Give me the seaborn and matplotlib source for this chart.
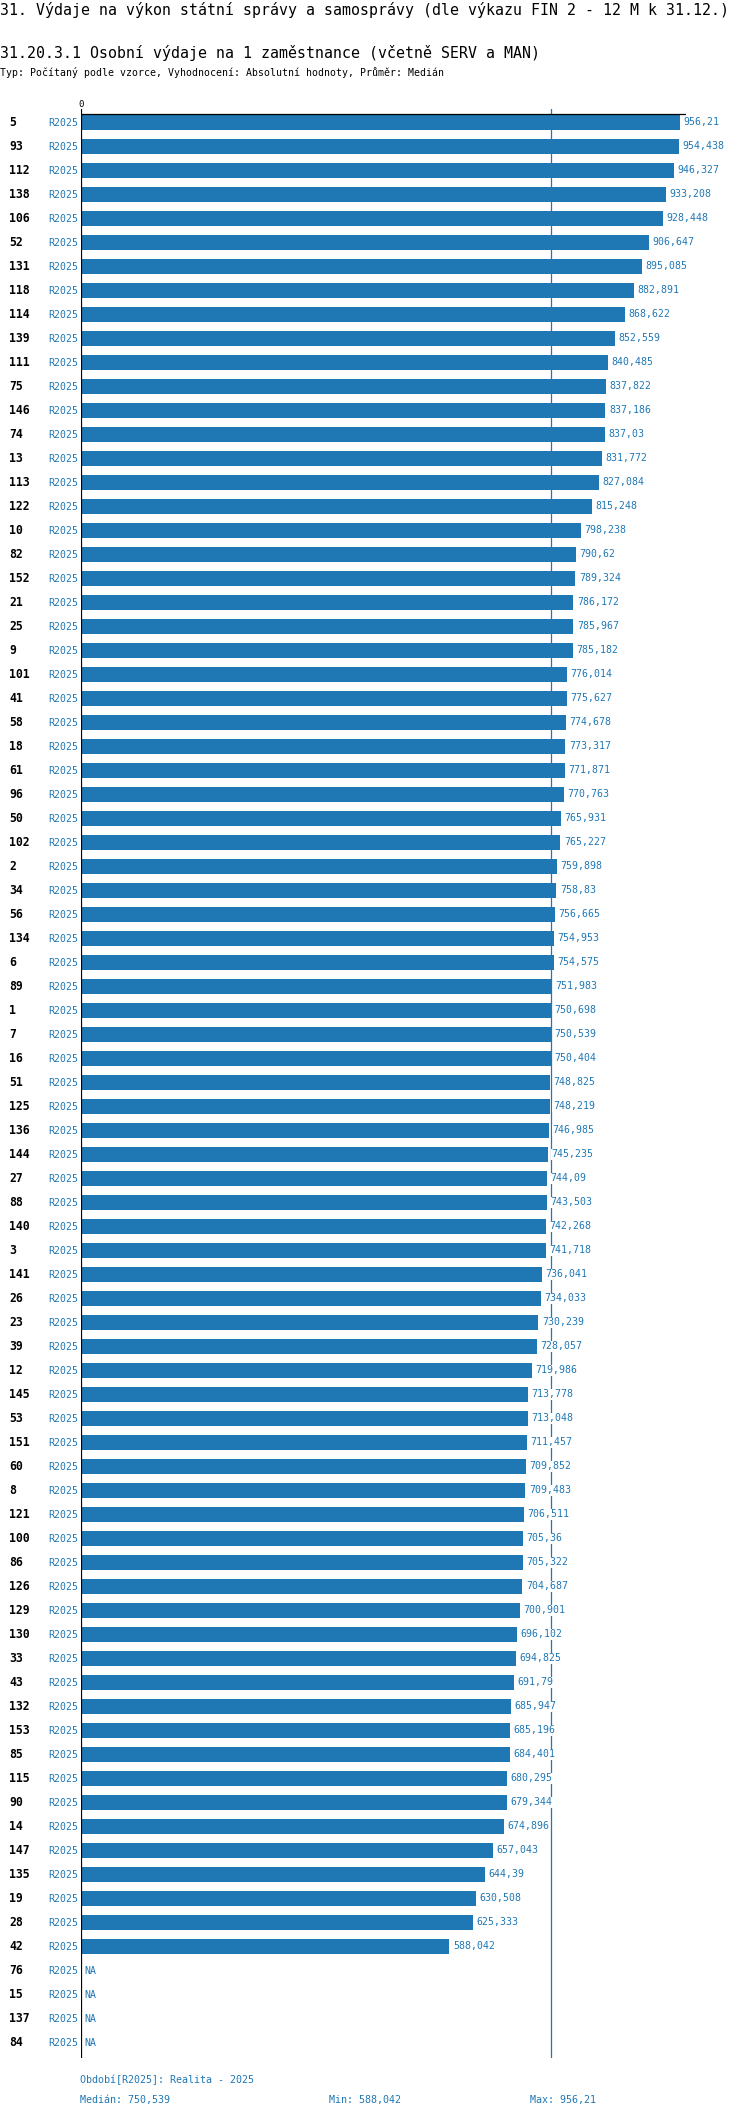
import numpy as np
import pandas as pd
import matplotlib
matplotlib.use("Agg")
import matplotlib.pyplot as plt
import seaborn as sns

# ---------------- data ----------------
categories = ["5", "93", "112", "138", "106", "52", "131", "118", "114", "139",
              "111", "75", "146", "74", "13", "113", "122", "10", "82", "152",
              "21", "25", "9", "101", "41", "58", "18", "61", "96", "50",
              "102", "2", "34", "56", "134", "6", "89", "1", "7", "16",
              "51", "125", "136", "144", "27", "88", "140", "3", "141", "26",
              "23", "39", "12", "145", "53", "151", "60", "8", "121", "100",
              "86", "126", "129", "130", "33", "43", "132", "153", "85", "115",
              "90", "14", "147", "135", "19", "28", "42", "76", "15", "137", "84"]

values = [956.21, 954.438, 946.327, 933.208, 928.448, 906.647, 895.085, 882.891, 868.622, 852.559,
          840.485, 837.822, 837.186, 837.03, 831.772, 827.084, 815.248, 798.238, 790.62, 789.324,
          786.172, 785.967, 785.182, 776.014, 775.627, 774.678, 773.317, 771.871, 770.763, 765.931,
          765.227, 759.898, 758.83, 756.665, 754.953, 754.575, 751.983, 750.698, 750.539, 750.404,
          748.825, 748.219, 746.985, 745.235, 744.09, 743.503, 742.268, 741.718, 736.041, 734.033,
          730.239, 728.057, 719.986, 713.778, 713.048, 711.457, 709.852, 709.483, 706.511, 705.36,
          705.322, 704.687, 700.901, 696.102, 694.825, 691.79, 685.947, 685.196, 684.401, 680.295,
          679.344, 674.896, 657.043, 644.39, 630.508, 625.333, 588.042, np.nan, np.nan, np.nan, np.nan]

period_label = "R2025"
title = "31. Výdaje na výkon státní správy a samosprávy (dle výkazu FIN 2 - 12 M k 31.12.)"
subtitle = "31.20.3.1 Osobní výdaje na 1 zaměstnance (včetně SERV a MAN)"
info = "Typ: Počítaný podle vzorce, Vyhodnocení: Absolutní hodnoty, Průměr: Medián"
period_note = "Období[R2025]: Realita - 2025"

# ---------------- style ----------------
BLUE = "#1f77b4"
W, H = 750, 2118
DPI = 100
plt.rcParams["font.family"] = ["DejaVu Sans Mono", "DejaVu Sans"]

def fmt(v):
    s = f"{v:.3f}".rstrip("0").rstrip(".")
    return s.replace(".", ",")

df = pd.DataFrame({"cat": categories, "value": values})
vals = np.array(values, dtype=float)
median = np.nanmedian(vals)
vmin = np.nanmin(vals)
vmax = np.nanmax(vals)

fig = plt.figure(figsize=(W / DPI, H / DPI), dpi=DPI)

# axes geometry in pixels
ax_left, ax_right = 81, 685.5
ax_top, ax_bottom = 109, 2058
row0_center, row_step = 122.5, 24.0
ax = fig.add_axes([ax_left / W, 1 - ax_bottom / H,
                   (ax_right - ax_left) / W, (ax_bottom - ax_top) / H])

sns.barplot(data=df, x="value", y="cat", order=categories, color=BLUE,
            saturation=1, errorbar=None, width=0.65, ax=ax, zorder=2)

y_top = -(row0_center - ax_top) / row_step
y_bot = (ax_bottom - row0_center) / row_step
ax.set_ylim(y_bot, y_top)
ax.set_xlim(0, 965)
for s in ax.spines.values():
    s.set_visible(False)
ax.set_xticks([])
ax.set_yticks([])
ax.set_xlabel("")
ax.set_ylabel("")
ax.patch.set_alpha(0)

# median line (behind bars)
ax.axvline(median, color=BLUE, lw=0.9, zorder=1)
# left axis line
ax.axvline(0, color="black", lw=1.6, zorder=3)
# top line
ax.axhline(-(row0_center - 114) / row_step, color="black", lw=0.9, zorder=3)

# "0" tick label
ax.text(0, 1.0, "0", transform=ax.get_xaxis_transform(), ha="center", va="bottom",
        fontsize=6.5, color="black")

def px_to_axfrac(px):
    return (px - ax_left) / (ax_right - ax_left)

ytr = ax.get_yaxis_transform()
for i, (c, v) in enumerate(zip(categories, values)):
    ax.text(px_to_axfrac(9.5), i, c, transform=ytr, ha="left", va="center",
            fontsize=8.3, fontweight="bold", color="black", clip_on=False)
    ax.text(px_to_axfrac(78), i, period_label, transform=ytr, ha="right", va="center",
            fontsize=7.1, color=BLUE, clip_on=False)
    if np.isnan(v):
        lab, xv = "NA", 0
    else:
        lab, xv = fmt(v), v
    ax.annotate(lab, (xv, i), xytext=(3.5, 0), textcoords="offset pixels",
                ha="left", va="center", fontsize=7.1, color=BLUE, zorder=4,
                annotation_clip=False,
                bbox=dict(facecolor="white", edgecolor="none", pad=0.6))

# header texts
fig.text(0.0, 1 - 10 / H, title, ha="left", va="center", fontsize=10.7, color="black")
fig.text(0.0, 1 - 53 / H, subtitle, ha="left", va="center", fontsize=10.7, color="black")
fig.text(0.0, 1 - 73 / H, info, ha="left", va="center", fontsize=7.15, color="black")

# footer texts
fig.text(79.5 / W, 1 - 2080 / H, period_note, ha="left", va="center", fontsize=7.2, color=BLUE)
fig.text(79.5 / W, 1 - 2100 / H, f"Medián: {fmt(median)}", ha="left", va="center", fontsize=7.2, color=BLUE)
fig.text(329 / W, 1 - 2100 / H, f"Min: {fmt(vmin)}", ha="left", va="center", fontsize=7.2, color=BLUE)
fig.text(530 / W, 1 - 2100 / H, f"Max: {fmt(vmax)}", ha="left", va="center", fontsize=7.2, color=BLUE)

fig.savefig("out.png", dpi=DPI)
